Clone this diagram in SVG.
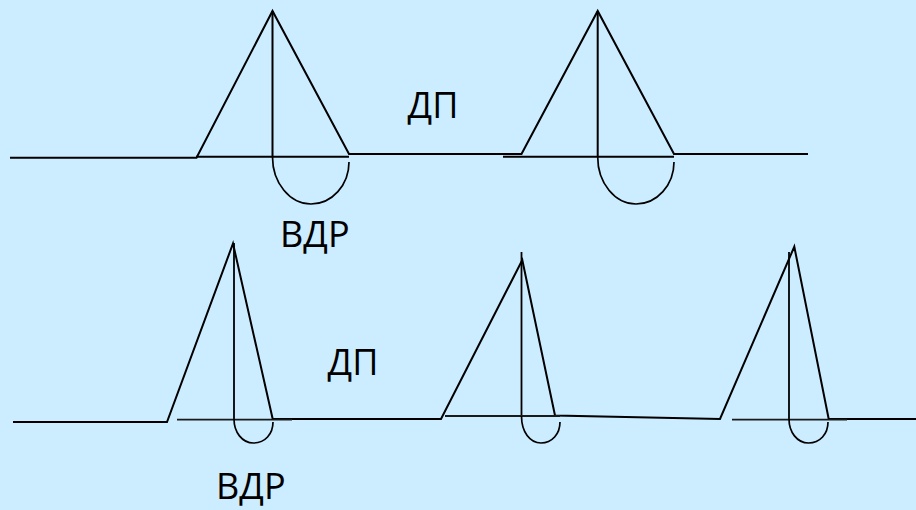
<svg xmlns="http://www.w3.org/2000/svg" width="916" height="510" viewBox="0 0 916 510">
<style>
.l{fill:none;stroke:#000;stroke-width:2;stroke-linejoin:miter}
.a{fill:none;stroke:#000;stroke-width:1.7}
.t{fill:none;stroke:#000;stroke-width:1.8}
.g{fill:none;stroke:#1a1a1a;stroke-width:1.8}
text{font-family:"Open Sans","Noto Sans","Liberation Sans",sans-serif;font-size:36px;fill:#000}
</style>
<rect width="916" height="510" fill="#CCECFF"/>
<g id="connectors">
<path class="l" d="M10 157.7H196.5L272.5 11L349 154H521.500L597.7 11L674 154H808"/>
<path class="l" d="M13 422H167L233 243.5L272.7 419H441L522.3 260L555 415.5L720 419L794.3 246.7L828.7 419H916"/>
</g>
<g id="node-top-1">
<path class="l" d="M272.5 11V157M196 156.7H349"/>
<path class="a" d="M272.5 157C272.5 183 290 204 311 204C332 204 349 185 349 162"/>
</g>
<g id="node-top-2">
<path class="l" d="M597.7 11V157M503 156.7H674"/>
<path class="a" d="M597.7 157C597.7 183 615 204 636 204C657 204 674 185 674 162"/>
</g>
<g id="node-bottom-1">
<path class="t" d="M234 243V419"/>
<path class="g" d="M177 419.7H292"/>
<path class="a" d="M234 419C234 432 242 443 253.500 443C265 443 273 434 273 422"/>
</g>
<g id="node-bottom-2">
<path class="t" d="M521.5 252V416"/>
<path class="g" d="M445 416H560"/>
<path class="a" d="M521.5 416C521.5 432 530 443 541 443C552 443 560 434 560 422"/>
</g>
<g id="node-bottom-3">
<path class="t" d="M789 252V419"/>
<path class="g" d="M732 419.7H847"/>
<path class="a" d="M789 419C789 432 797 443 808.500 443C820 443 828 434 828 422"/>
</g>
<g id="labels">
<text x="407.500" y="118">ДП</text>
<text x="280" y="247">ВДР</text>
<text x="327.500" y="375">ДП</text>
<text x="216" y="499">ВДР</text>
</g>
</svg>
